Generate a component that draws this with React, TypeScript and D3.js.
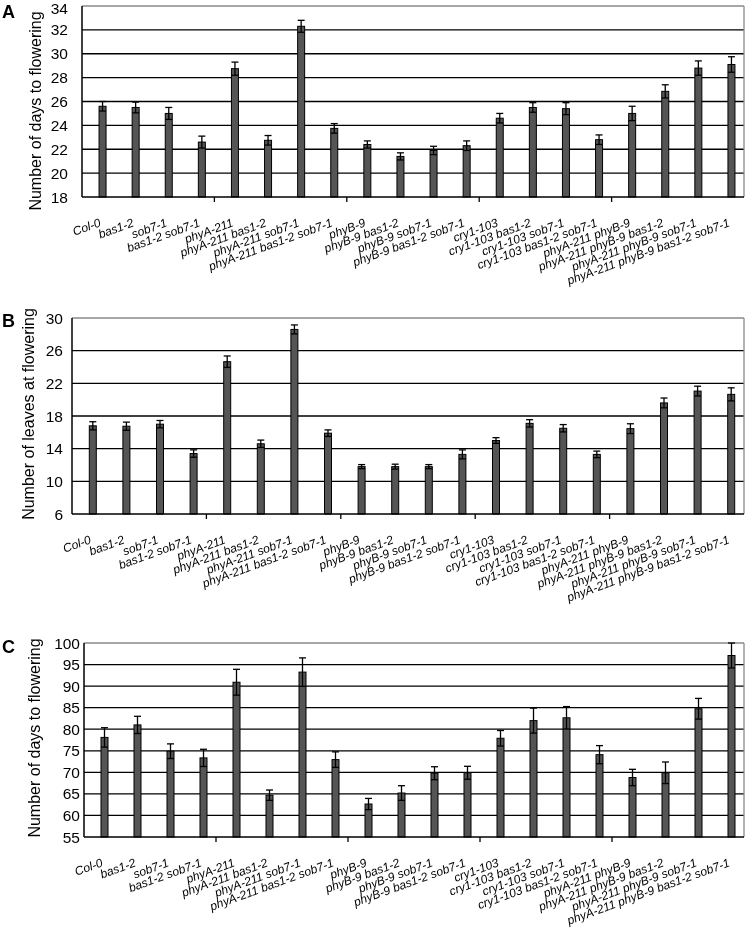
import React from 'react';
import * as d3 from 'd3';

// genotypes on the x axis, same order in all three panels
const genotypes = [
  'Col-0', 'bas1-2', 'sob7-1', 'bas1-2 sob7-1',
  'phyA-211', 'phyA-211 bas1-2', 'phyA-211 sob7-1', 'phyA-211 bas1-2 sob7-1',
  'phyB-9', 'phyB-9 bas1-2', 'phyB-9 sob7-1', 'phyB-9 bas1-2 sob7-1',
  'cry1-103', 'cry1-103 bas1-2', 'cry1-103 sob7-1', 'cry1-103 bas1-2 sob7-1',
  'phyA-211 phyB-9', 'phyA-211 phyB-9 bas1-2', 'phyA-211 phyB-9 sob7-1', 'phyA-211 phyB-9 bas1-2 sob7-1',
];

// A: days to flowering
const daysA = [25.6, 25.5, 25.0, 22.6, 28.75, 22.75, 32.3, 23.75, 22.4, 21.4, 21.9, 22.3, 24.6, 25.5, 25.4, 22.8, 25.0, 26.85, 28.8, 29.1];
const daysAErr = [0.4, 0.45, 0.5, 0.5, 0.55, 0.4, 0.5, 0.4, 0.3, 0.3, 0.35, 0.4, 0.4, 0.4, 0.5, 0.4, 0.6, 0.55, 0.6, 0.65];
const ticksA = [18, 20, 22, 24, 26, 28, 30, 32, 34];

// B: leaves at flowering
const leavesB = [16.8, 16.75, 17.0, 13.4, 24.65, 14.6, 28.6, 15.9, 11.8, 11.8, 11.8, 13.3, 15.0, 17.1, 16.5, 13.3, 16.45, 19.6, 21.05, 20.65];
const leavesBErr = [0.5, 0.5, 0.45, 0.45, 0.7, 0.45, 0.55, 0.4, 0.25, 0.3, 0.25, 0.55, 0.35, 0.45, 0.45, 0.4, 0.6, 0.6, 0.6, 0.8];
const ticksB = [6, 10, 14, 18, 22, 26, 30];

// C: days to flowering
const daysC = [78.1, 81.0, 74.9, 73.35, 90.9, 64.7, 93.25, 72.95, 62.65, 65.2, 69.8, 69.9, 77.9, 82.0, 82.65, 74.1, 68.8, 69.9, 84.75, 97.1];
const daysCErr = [2.25, 2.0, 1.7, 2.0, 3.0, 1.2, 3.3, 1.8, 1.3, 1.7, 1.5, 1.5, 1.8, 2.9, 2.6, 2.1, 1.9, 2.5, 2.4, 2.9];
const ticksC = [55, 60, 65, 70, 75, 80, 85, 90, 95, 100];

const FONT = '"Liberation Sans", Arial, Helvetica, sans-serif';

function Panel(props) {
  const { letter, letterY, title, titleX, titleY, values, errors, ticks, top, bottom, left, tickRight } = props;
  const right = 744;
  const lo = ticks[0];
  const hi = ticks[ticks.length - 1];
  const y = d3.scaleLinear().domain([lo, hi]).range([bottom, top]);
  const x = d3.scaleBand().domain(genotypes).range([left, right]).padding(0);
  const bw = x.bandwidth();
  const cx = (g) => x(g) + bw / 2 + 4;

  return (
    <g>
      <text x={2} y={letterY} style={{ fontFamily: FONT, fontWeight: 700, fontSize: 18 }}>{letter}</text>
      <text
        transform={`translate(${titleX},${titleY})rotate(-90)`}
        style={{ fontFamily: FONT, fontSize: 16, textAnchor: 'middle' }}
      >{title}</text>

      {ticks.map(t => (
        // top label sits a bit lower so it is not clipped
        <text key={'yt' + t} x={tickRight} y={y(t) + (t === hi && top < 20 ? 2 : 0)} dy="0.36em"
          style={{ fontFamily: FONT, fontSize: 15.5, textAnchor: 'end' }}>{t}</text>
      ))}

      {/* grid */}
      {ticks.slice(1, -1).map(t => (
        <line key={'g' + t} x1={left} x2={right} y1={y(t)} y2={y(t)} stroke="#000" strokeWidth={1.3} />
      ))}
      <line x1={left} x2={right} y1={y(hi)} y2={y(hi)} stroke="#8a8a8a" strokeWidth={1.3} />
      <line x1={right} x2={right} y1={y(hi)} y2={bottom} stroke="#8a8a8a" strokeWidth={1.3} />

      {/* bars + error bars */}
      {genotypes.map((g, i) => {
        const c = cx(g);
        const v = values[i];
        const e = errors[i];
        return (
          <g key={g}>
            <rect x={c - 3.5} width={7} y={y(v)} height={y(lo) - y(v)} fill="#555" stroke="#000" strokeWidth={1} />
            <line x1={c} x2={c} y1={y(v - e)} y2={y(v + e)} stroke="#000" strokeWidth={1.3} />
            <line x1={c - 3.5} x2={c + 3.5} y1={y(v + e)} y2={y(v + e)} stroke="#000" strokeWidth={1.3} />
            <line x1={c - 3.5} x2={c + 3.5} y1={y(v - e)} y2={y(v - e)} stroke="#000" strokeWidth={1.3} />
          </g>
        );
      })}

      {/* axes */}
      <line x1={left} x2={left} y1={y(hi)} y2={bottom} stroke="#000" strokeWidth={1.5} />
      <line x1={left} x2={right} y1={bottom} y2={bottom} stroke="#000" strokeWidth={1.5} />
      {[4, 8, 12, 16].map(k => (
        <line key={'xt' + k} x1={left + k * bw} x2={left + k * bw} y1={bottom} y2={bottom + 5} stroke="#000" strokeWidth={1.3} />
      ))}

      {genotypes.map(g => (
        <text key={'xl' + g} fill="#000"
          transform={`translate(${cx(g) - 1},${bottom + 29})rotate(-20)`}
          style={{ fontFamily: FONT, fontSize: 12, fontStyle: 'italic', textAnchor: 'end' }}
        >{g}</text>
      ))}
    </g>
  );
}

export default function App() {
  return (
    <svg width={747} height={936} style={{ position: 'absolute', left: 0, top: 0, background: '#fff', willChange: 'transform' }}>
      <rect width={747} height={936} fill="#fff" />
      <Panel letter="A" letterY={18} title="Number of days to flowering" titleX={41} titleY={111}
        values={daysA} errors={daysAErr} ticks={ticksA} top={6} bottom={197} left={82} tickRight={68} />
      <Panel letter="B" letterY={327} title="Number of leaves at flowering" titleX={33.5} titleY={414}
        values={leavesB} errors={leavesBErr} ticks={ticksB} top={318} bottom={514} left={72} tickRight={63} />
      <Panel letter="C" letterY={653} title="Number of days to flowering" titleX={40} titleY={738}
        values={daysC} errors={daysCErr} ticks={ticksC} top={643} bottom={837} left={84} tickRight={80} />
    </svg>
  );
}
